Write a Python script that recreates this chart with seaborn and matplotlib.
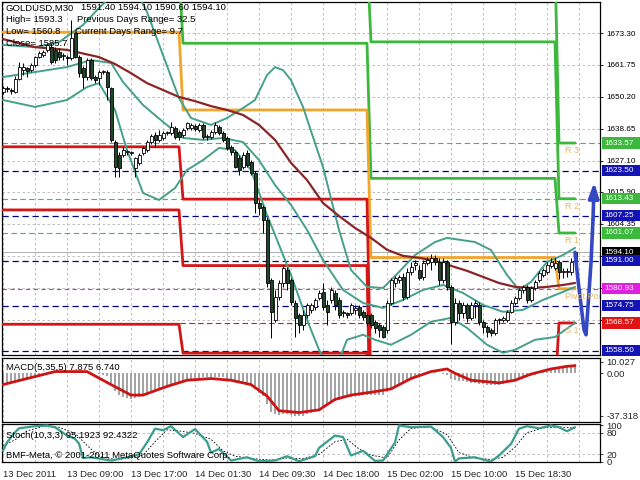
import numpy as np
import pandas as pd
import matplotlib
matplotlib.use("Agg")
import matplotlib.pyplot as plt
import matplotlib.transforms as mtransforms
from matplotlib.patches import Rectangle
import seaborn as sns

# --- GOLDUSD M30 bars (bar 0 = 13 Dec 2011 00:00) ---
bar_open = [1652.0, 1653.4, 1652.7, 1652.0, 1656.7, 1659.9, 1660.6, 1659.9, 1661.7, 1664.6,
            1665.3, 1667.2, 1668.2, 1667.2, 1666.4, 1665.0, 1664.3, 1664.3, 1673.3, 1664.6,
            1660.6, 1657.4, 1663.5, 1657.4, 1657.0, 1659.2, 1659.2, 1653.4, 1633.9, 1629.2,
            1629.2, 1630.3, 1630.0, 1624.6, 1626.4, 1630.0, 1631.1, 1633.9, 1636.5, 1634.7,
            1635.4, 1637.2, 1637.2, 1639.0, 1637.5, 1636.5, 1639.0, 1639.0, 1639.7, 1638.3,
            1640.1, 1635.7, 1635.7, 1637.5, 1639.4, 1637.2, 1635.4, 1632.1, 1630.3, 1628.2,
            1624.9, 1630.0, 1626.7, 1622.7, 1611.9, 1610.5, 1605.8, 1584.1, 1569.7, 1578.0,
            1583.0, 1587.7, 1584.1, 1575.8, 1571.5, 1567.9, 1571.5, 1573.3, 1574.4, 1577.6,
            1579.8, 1575.1, 1576.9, 1579.4, 1576.9, 1572.2, 1572.2, 1572.2, 1573.3, 1574.4,
            1572.6, 1571.5, 1571.5, 1569.0, 1567.9, 1567.2, 1566.1, 1575.8, 1583.0, 1584.1,
            1585.2, 1578.0, 1587.0, 1589.5, 1587.7, 1585.2, 1590.3, 1590.6, 1592.1, 1590.6,
            1584.1, 1590.6, 1581.6, 1569.0, 1575.8, 1572.2, 1575.1, 1570.4, 1575.1, 1575.1,
            1569.0, 1567.2, 1566.1, 1565.0, 1569.7, 1569.7, 1569.7, 1572.6, 1575.8, 1577.6,
            1580.5, 1581.6, 1576.9, 1581.2, 1584.1, 1585.9, 1587.0, 1589.1, 1588.5, 1590.6,
            1587.0, 1587.0, 1587.0, 1591.4]
bar_high = [1654.2, 1654.2, 1653.4, 1657.8, 1662.8, 1662.5, 1661.0, 1662.5, 1665.0, 1666.8,
            1667.2, 1669.7, 1669.7, 1668.2, 1667.9, 1666.1, 1665.3, 1678.0, 1673.6, 1665.3,
            1661.4, 1664.3, 1664.3, 1658.1, 1659.9, 1659.9, 1659.9, 1653.8, 1634.7, 1630.3,
            1632.1, 1631.1, 1630.7, 1628.5, 1630.0, 1632.5, 1634.7, 1636.8, 1637.5, 1638.3,
            1637.9, 1637.9, 1641.2, 1639.7, 1638.3, 1639.0, 1641.2, 1640.8, 1640.4, 1640.8,
            1640.8, 1636.8, 1638.3, 1641.2, 1640.1, 1637.9, 1636.1, 1632.9, 1631.1, 1629.2,
            1630.3, 1631.1, 1627.4, 1623.5, 1613.0, 1611.2, 1606.9, 1584.8, 1580.5, 1584.1,
            1589.5, 1588.8, 1584.8, 1576.9, 1572.2, 1573.3, 1575.8, 1575.8, 1577.6, 1580.5,
            1583.0, 1576.9, 1581.6, 1580.5, 1578.0, 1573.3, 1572.6, 1575.8, 1575.1, 1575.1,
            1573.3, 1572.2, 1572.2, 1569.7, 1568.6, 1567.9, 1576.9, 1584.8, 1585.6, 1585.9,
            1586.7, 1588.5, 1590.6, 1591.3, 1589.5, 1591.3, 1592.4, 1593.3, 1593.1, 1592.1,
            1592.1, 1591.3, 1582.3, 1577.6, 1576.9, 1576.2, 1575.8, 1576.2, 1576.9, 1576.2,
            1569.7, 1567.9, 1566.8, 1570.4, 1570.4, 1571.1, 1573.3, 1576.9, 1578.3, 1581.2,
            1582.3, 1582.3, 1582.0, 1584.1, 1587.4, 1588.5, 1590.6, 1592.1, 1592.1, 1591.3,
            1588.5, 1588.5, 1592.1, 1594.1]
bar_low = [1651.3, 1652.0, 1651.3, 1651.6, 1656.3, 1658.1, 1657.4, 1659.2, 1661.0, 1664.3,
           1664.6, 1666.4, 1662.1, 1662.5, 1663.5, 1663.5, 1661.7, 1663.5, 1664.3, 1657.4,
           1653.4, 1656.3, 1656.3, 1655.2, 1654.5, 1658.5, 1649.1, 1633.9, 1621.3, 1621.3,
           1628.5, 1629.2, 1629.2, 1621.3, 1625.6, 1629.2, 1630.3, 1633.2, 1632.1, 1633.9,
           1634.7, 1636.5, 1636.5, 1635.0, 1634.7, 1635.7, 1638.3, 1638.3, 1637.9, 1637.5,
           1635.0, 1634.7, 1635.0, 1636.8, 1636.5, 1633.9, 1631.1, 1629.2, 1624.6, 1622.0,
           1624.2, 1624.9, 1622.0, 1608.3, 1607.6, 1601.1, 1581.6, 1563.2, 1569.0, 1576.9,
           1581.6, 1580.5, 1575.1, 1563.5, 1565.0, 1566.1, 1570.4, 1572.2, 1573.3, 1576.9,
           1573.3, 1567.9, 1575.8, 1573.3, 1570.4, 1570.8, 1570.4, 1571.5, 1571.9, 1570.4,
           1569.7, 1567.5, 1566.8, 1565.0, 1563.5, 1563.2, 1565.0, 1575.1, 1581.6, 1583.0,
           1576.9, 1577.3, 1585.9, 1587.7, 1584.1, 1584.1, 1589.5, 1587.7, 1589.5, 1582.3,
           1583.0, 1580.5, 1560.8, 1567.9, 1569.7, 1570.4, 1569.0, 1569.7, 1570.4, 1567.9,
           1565.0, 1563.5, 1563.9, 1564.3, 1568.2, 1569.0, 1569.0, 1572.2, 1575.1, 1576.9,
           1579.4, 1575.8, 1576.2, 1580.5, 1583.4, 1585.2, 1586.3, 1588.5, 1587.7, 1584.4,
           1584.8, 1585.2, 1585.9, 1590.6]
bar_close = [1653.4, 1653.1, 1652.4, 1656.7, 1661.0, 1661.0, 1659.6, 1661.7, 1664.6, 1666.1,
             1666.4, 1669.0, 1662.8, 1663.5, 1664.6, 1665.1, 1664.2, 1671.5, 1664.6, 1658.8,
             1657.4, 1663.5, 1657.0, 1656.3, 1659.2, 1659.3, 1653.8, 1634.7, 1624.9, 1624.6,
             1631.1, 1630.4, 1630.1, 1628.2, 1629.2, 1631.8, 1633.9, 1636.1, 1634.7, 1636.5,
             1637.2, 1637.3, 1639.4, 1635.7, 1635.7, 1638.3, 1640.8, 1640.1, 1638.6, 1640.1,
             1635.7, 1635.8, 1637.5, 1640.1, 1637.2, 1634.7, 1631.8, 1630.3, 1624.9, 1623.8,
             1629.2, 1625.6, 1622.7, 1611.9, 1610.1, 1605.8, 1583.0, 1572.6, 1578.0, 1583.0,
             1588.5, 1583.0, 1576.2, 1570.4, 1567.9, 1571.5, 1575.1, 1575.1, 1576.9, 1579.4,
             1574.4, 1572.6, 1580.5, 1575.1, 1571.5, 1572.3, 1571.5, 1575.1, 1574.0, 1571.5,
             1570.8, 1568.6, 1567.9, 1566.8, 1566.1, 1563.5, 1575.8, 1584.1, 1584.8, 1585.2,
             1578.0, 1587.0, 1588.8, 1590.3, 1584.8, 1590.3, 1591.3, 1592.1, 1590.6, 1584.1,
             1590.6, 1581.6, 1569.0, 1575.8, 1572.2, 1575.1, 1570.4, 1575.1, 1575.8, 1569.0,
             1567.2, 1565.4, 1565.0, 1569.7, 1569.8, 1570.4, 1572.6, 1575.8, 1577.6, 1580.5,
             1581.6, 1576.9, 1581.2, 1583.4, 1586.7, 1587.7, 1589.5, 1590.6, 1590.3, 1587.0,
             1587.1, 1587.4, 1590.6, 1594.1]

# daily pivot levels (13, 14, 15, 16 Dec) and bars per day
day_len = [45, 47, 47, 5]
piv_r3 = [1760.6, 1725.7, 1698.7, 1633.57]
piv_r2 = [1737.8, 1701.7, 1670.1, 1613.43]
piv_r1 = [1696.4, 1669.6, 1620.8, 1601.07]
piv_p = [1673.6, 1645.5, 1592.2, 1580.93]
piv_s1 = [1632.2, 1613.3, 1542.9, 1568.57]
piv_s2 = [1609.4, 1589.3, 1514.3, 1548.43]
piv_s3 = [1568.1, 1557.7, 1465.0, 1536.06]

# moving average (dark red), read at sample bars
ma_bar = [0, 8, 16, 24, 28, 32, 36, 40, 44, 48, 52, 56, 60, 64, 68, 72, 76, 80, 84, 88,
          92, 96, 100, 104, 108, 112, 116, 120, 124, 128, 132, 136, 140, 143]
ma_val = [1671.1, 1668.2, 1667.2, 1664.6, 1662.1, 1658.8, 1655.2, 1652.7, 1650.2, 1648.7,
          1646.9, 1645.5, 1643.7, 1640.1, 1634.7, 1626.4, 1620.2, 1611.9, 1607.2, 1602.9,
          1599.3, 1595.0, 1592.8, 1592.1, 1591.0, 1589.2, 1587.4, 1585.2, 1583.0, 1581.6,
          1581.2, 1581.6, 1582.3, 1583.0]

# bollinger bands (teal), read at sample bars
bb_up_bar = [0, 8, 14, 20, 24, 26, 29, 33, 36, 40, 44, 47, 52, 56, 60, 63, 66, 68, 70, 72,
             75, 80, 84, 87, 91, 95, 99, 103, 108, 111, 118, 122, 126, 129, 132, 136, 140, 143]
bb_up_val = [1669.0, 1668.2, 1670.0, 1676.2, 1682.3, 1685.2, 1690.6, 1689.5, 1680.9, 1665.3,
             1649.8, 1642.6, 1640.1, 1642.6, 1646.2, 1649.1, 1658.1, 1661.0, 1659.9, 1656.3,
             1646.6, 1624.9, 1602.2, 1587.7, 1581.6, 1581.2, 1587.0, 1593.1, 1597.8, 1599.3,
             1597.8, 1594.9, 1585.9, 1580.5, 1583.4, 1590.6, 1593.1, 1595.7]
bb_mid_bar = [0, 8, 16, 22, 27, 30, 35, 40, 45, 50, 55, 60, 64, 68, 72, 76, 80, 85, 90, 95,
              100, 105, 110, 115, 120, 125, 130, 135, 140, 143]
bb_mid_val = [1657.4, 1659.2, 1661.0, 1663.5, 1662.5, 1655.6, 1647.3, 1641.2, 1635.4, 1634.7,
              1635.4, 1633.9, 1627.4, 1618.4, 1611.2, 1602.2, 1591.3, 1580.5, 1575.8, 1574.0,
              1576.9, 1580.5, 1582.3, 1579.4, 1575.1, 1572.6, 1573.3, 1576.9, 1579.8, 1581.6]
bb_lo_bar = [0, 8, 16, 21, 24, 28, 31, 35, 39, 43, 46, 50, 54, 58, 62, 66, 69, 72, 76, 79,
             81, 84, 86, 90, 93, 97, 102, 107, 112, 116, 121, 125, 128, 133, 138, 143]
bb_lo_val = [1649.1, 1646.6, 1649.1, 1653.8, 1655.2, 1645.5, 1631.0, 1615.5, 1613.0, 1617.3,
             1623.8, 1627.4, 1631.8, 1631.0, 1623.8, 1607.6, 1596.8, 1585.9, 1569.7, 1558.9,
             1553.4, 1555.2, 1562.5, 1564.3, 1562.5, 1560.7, 1564.3, 1569.0, 1570.4, 1566.8,
             1560.7, 1557.8, 1558.9, 1562.5, 1563.5, 1568.6]

# forecast arrow (blue)
fc_bar = [143, 143.75, 144.75, 145.25, 145.75, 146.25, 147.0, 147.5]
fc_price = [1594.1, 1584.1, 1572.2, 1566.1, 1564.3, 1574.4, 1590.3, 1606.0]
fc_tip = (147.8, 1619.5)

# horizontal levels and right-hand price boxes
navy_levels = [1623.50, 1607.25, 1591.00, 1574.75, 1558.50]
green_levels = [1633.57, 1613.43, 1601.07]
magenta_level = 1580.93
red_level = 1568.57
bid_price = 1594.10
price_ticks = [1673.30, 1661.75, 1650.20, 1638.65, 1627.10, 1615.90, 1604.35, 1592.80, 1581.25, 1569.70]
price_tick_lbl = ["1673.30", "1661.75", "1650.20", "1638.65", "1627.10", "1615.90", "1604.35", "", "", "1569.70"]

# MACD(5,35,5): main (histogram) per bar, signal at sample bars
macd_main = [-9.0, -8.5, -8.0, -7.5, -6.5, -5.5, -4.5, -3.5,
             -2.5, -1.5, -1.0, -0.5, 0.0, 0.2, 0.3, 0.3,
             0.5, 1.2, 1.5, 1.0, 0.5, 0.8, 0.5, 0.0,
             -0.5, -1.0, -2.0, -8.0, -15.0, -19.0, -21.0, -22.0,
             -22.5, -22.0, -21.0, -20.0, -18.5, -17.0, -15.5, -14.0,
             -12.5, -11.0, -9.5, -8.5, -7.5, -6.5, -5.5, -5.0,
             -4.5, -4.0, -3.5, -3.5, -3.5, -3.0, -3.0, -3.5,
             -4.5, -5.5, -7.0, -8.5, -9.0, -10.0, -11.0, -14.0,
             -17.0, -20.0, -27.0, -34.0, -36.0, -36.5, -36.0, -36.0,
             -36.5, -37.0, -37.318, -37.0, -36.0, -35.0, -33.0, -31.0,
             -29.0, -27.5, -25.5, -24.0, -23.0, -22.0, -21.0, -20.5,
             -20.0, -19.5, -19.0, -18.5, -18.5, -18.5, -18.5, -18.5,
             -16.5, -14.0, -12.0, -10.0, -9.0, -7.0, -5.0, -3.5,
             -2.5, -1.5, -0.5, 0.5, 1.0, 0.5, -0.5, -1.5,
             -4.5, -5.5, -6.5, -7.0, -7.5, -8.0, -8.5, -9.0,
             -9.5, -10.0, -10.5, -10.5, -10.0, -9.0, -8.0, -7.0,
             -6.0, -5.0, -4.0, -3.0, -2.0, -1.0, 0.0, 1.5,
             3.0, 4.0, 5.0, 6.0, 6.5, 7.0, 7.5, 7.875]
macd_sig_bar = [0, 13, 21, 27, 32, 35, 41, 46, 52, 57, 62, 66, 69, 74, 79, 83, 87, 93, 97, 102,
                107, 111, 113, 117, 124, 128, 132, 137, 141, 143]
macd_sig_val = [-9.8, 1.6, 1.6, -9.8, -19.0, -19.0, -11.4, -6.0, -4.5, -6.0, -9.8, -19.8, -32.7,
                -34.3, -32.0, -22.8, -19.0, -16.0, -13.6, -4.5, 1.6, 3.9, 0.1, -6.0, -8.3, -6.0,
                -0.6, 3.9, 6.2, 6.74]

# Stoch(10,3,3)
stk_bar = [0, 1, 3, 4, 8, 11, 13, 16, 18, 19, 20, 22, 27, 31, 34, 36, 38, 40, 42, 45,
           48, 51, 52, 54, 57, 61, 64, 68, 71, 74, 78, 79, 83, 85, 87, 90, 93, 95, 98, 99,
           102, 107, 110, 112, 113, 114, 118, 122, 124, 127, 129, 131, 134, 137, 139, 141, 143]
stk_val = [30, 53, 81, 92, 98, 100, 95, 72, 63, 50, 10, 12, 3, 12, 20, 53, 91, 87, 98, 68,
           90, 55, 25, 35, 3, 12, 1, 3, 15, 1, 15, 38, 72, 68, 17, 30, 2, 3, 53, 100,
           95, 97, 68, 38, 0, 9, 12, 0, 17, 49, 91, 98, 92, 100, 95, 84, 95.19]
sts_bar = [0, 3, 6, 10, 14, 18, 21, 24, 28, 32, 35, 38, 41, 44, 48, 52, 55, 58, 63, 67,
           71, 75, 79, 83, 86, 89, 92, 96, 99, 102, 107, 111, 114, 118, 122, 125, 128, 131,
           135, 139, 143]
sts_val = [45, 60, 85, 97, 95, 78, 45, 15, 6, 10, 18, 55, 88, 85, 78, 62, 30, 15, 8, 4,
           10, 8, 20, 55, 62, 35, 18, 10, 60, 92, 96, 75, 25, 10, 6, 12, 40, 80, 93, 96, 92.43]

time_bar = [0, 16, 32, 48, 64, 80, 96, 112, 128]
time_lbl = ["13 Dec 2011", "13 Dec 09:00", "13 Dec 17:00", "14 Dec 01:30", "14 Dec 09:30",
            "14 Dec 18:00", "15 Dec 02:00", "15 Dec 10:00", "15 Dec 18:30"]

# ---------------- drawing ----------------
sns.set_style("white")
plt.rcParams["font.family"] = ["Liberation Sans", "DejaVu Sans"]

W, H = 640, 480
fig = plt.figure(figsize=(6.4, 4.8), dpi=100)


def panel(x0, y0, x1, y1):
    return fig.add_axes([x0 / W, 1 - y1 / H, (x1 - x0) / W, (y1 - y0) / H])


ax = panel(2, 2, 600, 355)
ax_m = panel(2, 358, 600, 422)
ax_s = panel(2, 424, 600, 462)

GRID = dict(color="#b4b4b4", lw=0.6, ls=(0, (3, 3)), zorder=1)
for a in (ax, ax_m, ax_s):
    a.set_xlim(-0.25, 149.25)
    for g in range(0, 145, 8):
        a.axvline(g, **GRID)
    for sp in a.spines.values():
        sp.set_color("black")
        sp.set_linewidth(0.9)
    a.set_facecolor("white")

# ---- main price panel ----
ax.set_ylim(1557.0, 1684.5)
for t in price_ticks:
    ax.axhline(t, **GRID)
for lv in navy_levels:
    ax.axhline(lv, color="#000080", lw=0.9, ls=(0, (5, 3)), zorder=2)
for lv in green_levels:
    ax.axhline(lv, color="#4cb84c", lw=0.8, ls=(0, (5, 3)), zorder=2)
ax.axhline(magenta_level, color="#c040c0", lw=0.8, ls=(0, (4, 3)), zorder=2)
ax.axhline(red_level, color="#c02020", lw=0.8, ls=(0, (5, 3)), zorder=2)
ax.axhline(bid_price, color="#a0a0a0", lw=0.6, zorder=2)

n = len(bar_close)
idx = np.arange(n)
piv = {"R3": piv_r3, "R2": piv_r2, "R1": piv_r1, "P": piv_p, "S1": piv_s1, "S2": piv_s2, "S3": piv_s3}
rows = []
for name, vals in piv.items():
    kind = name[0]
    for b, v in zip(idx, np.repeat(vals, day_len)):
        rows.append((name, kind, b, v))
piv_df = pd.DataFrame(rows, columns=["name", "kind", "bar", "price"])
sns.lineplot(data=piv_df, x="bar", y="price", hue="kind", units="name", estimator=None,
             palette={"R": "#3cb83c", "P": "#f2a52c", "S": "#d41616"}, lw=2.0,
             legend=False, ax=ax, zorder=4)

band_color = "#45a08a"
sns.lineplot(x=bb_up_bar, y=bb_up_val, ax=ax, color=band_color, lw=1.4, zorder=5)
sns.lineplot(x=bb_mid_bar, y=bb_mid_val, ax=ax, color=band_color, lw=1.4, zorder=5)
sns.lineplot(x=bb_lo_bar, y=bb_lo_val, ax=ax, color=band_color, lw=1.4, zorder=5)
sns.lineplot(x=ma_bar, y=ma_val, ax=ax, color="#8b2525", lw=1.6, zorder=5)

o = np.array(bar_open)
c = np.array(bar_close)
hi = np.array(bar_high)
lo = np.array(bar_low)
up = c >= o
ax.vlines(idx, lo, hi, color="black", lw=0.7, zorder=6)
body_lo = np.minimum(o, c)
body_h = np.maximum(np.abs(c - o), 0.35)
ax.bar(idx[up], body_h[up], bottom=body_lo[up], width=0.75, color="white",
       edgecolor="black", lw=0.6, zorder=7)
ax.bar(idx[~up], body_h[~up], bottom=body_lo[~up], width=0.75, color="#1f4a2a",
       edgecolor="black", lw=0.6, zorder=7)

# forecast arrow
sns.lineplot(x=fc_bar, y=fc_price, sort=False, ax=ax, color="#3548c4", lw=2.6, zorder=8)
ax.annotate("", xy=fc_tip, xytext=(fc_bar[-1], fc_price[-1]),
            arrowprops=dict(arrowstyle="-|>,head_length=0.9,head_width=0.3", color="#3548c4",
                            lw=2.6, shrinkA=0, shrinkB=0), zorder=9)

# pivot labels for the new day
lbl_col = "#e6b56a"
for txt, lv in [("R 3", piv_r3[3]), ("R 2", piv_r2[3]), ("R 1", piv_r1[3]),
                ("Pivot Point", piv_p[3]), ("S 1", piv_s1[3])]:
    ax.text(140.5, lv - 1.0, txt, color=lbl_col, fontsize=6.5, va="top", ha="left",
            clip_on=True, zorder=9)

ax.set_xticks([])
ax.yaxis.tick_right()
ax.set_yticks(price_ticks)
ax.set_yticklabels(price_tick_lbl, fontsize=5.9)
ax.tick_params(axis="y", length=2.5, pad=2, width=0.6, colors="black")
ax.set_xlabel("")
ax.set_ylabel("")

trans = mtransforms.blended_transform_factory(ax.transAxes, ax.transData)
boxes = [(green_levels[0], "#3cb83c"), (navy_levels[0], "#1414b4"), (green_levels[1], "#3cb83c"),
         (navy_levels[1], "#1414b4"), (green_levels[2], "#3cb83c"), (bid_price, "#000000"),
         (navy_levels[2], "#1414b4"), (magenta_level, "#e020e0"), (navy_levels[3], "#1414b4"),
         (red_level, "#e01414"), (navy_levels[4], "#1414b4")]
for val, col in boxes:
    ax.add_patch(Rectangle((1.0035, val - 2.0), 0.07, 4.0, transform=trans, facecolor=col,
                           edgecolor="none", clip_on=False, zorder=20))
    ax.text(1.0075, val, f"{val:.2f}", transform=trans, color="white", fontsize=5.9,
            va="center", ha="left", clip_on=False, zorder=21)

# header text
def ftext(x, y, s, **kw):
    fig.text(x / W, 1 - y / H, s, va="center", ha="left", fontsize=6.8, color="black", **kw)


ftext(6, 8, "GOLDUSD,M30")
ftext(81, 8, "1591.40 1594.10 1590.60 1594.10")
ftext(6, 20, "High= 1593.3")
ftext(77, 20, "Previous Days Range= 32.5")
ftext(6, 32, "Low= 1560.8")
ftext(75, 32, "Current Days Range= 9.7")
ftext(6, 44, "Close= 1585.7")

# ---- MACD panel ----
ax_m.set_ylim(-42.6, 13.5)
ax_m.vlines(idx, 0, macd_main, color="#a4a4a4", lw=1.4, antialiased=False, zorder=2)
sns.lineplot(x=macd_sig_bar, y=macd_sig_val, ax=ax_m, color="#cc1414", lw=2.0, zorder=3)
ax_m.set_xticks([])
ax_m.yaxis.tick_right()
ax_m.set_yticks([10.027, 0.0, -37.318])
ax_m.set_yticklabels(["10.027", "0.00", "-37.318"], fontsize=6.8)
ax_m.tick_params(axis="y", length=2.5, pad=2, width=0.6)
ax_m.set_xlabel("")
ax_m.set_ylabel("")
ftext(6, 368, "MACD(5,35,5) 7.875 6.740")

# ---- Stochastic panel ----
ax_s.set_ylim(-1, 104)
for lv in (80, 20):
    ax_s.axhline(lv, **GRID)
sns.lineplot(x=sts_bar, y=sts_val, ax=ax_s, color="black", lw=0.6, ls=(0, (2, 2)), zorder=3)
sns.lineplot(x=stk_bar, y=stk_val, ax=ax_s, color="#3a9e8e", lw=1.6, zorder=4)
ax_s.yaxis.tick_right()
ax_s.set_yticks([100, 80, 20, 0])
ax_s.set_yticklabels(["100", "80", "20", "0"], fontsize=6.8)
ax_s.tick_params(axis="y", length=2.5, pad=2, width=0.6)
ax_s.set_xticks(time_bar)
ax_s.set_xticklabels(time_lbl, fontsize=6.8)
for lab in ax_s.get_xticklabels():
    lab.set_horizontalalignment("left")
ax_s.tick_params(axis="x", length=4, pad=2, width=0.6, direction="out")
ax_s.set_xlabel("")
ax_s.set_ylabel("")
ftext(6, 435, "Stoch(10,3,3) 95.1923 92.4322")
ftext(6, 455, "BMF-Meta, \u00a9 2001-2011 MetaQuotes Software Corp.")

fig.savefig("out.png", dpi=100)
